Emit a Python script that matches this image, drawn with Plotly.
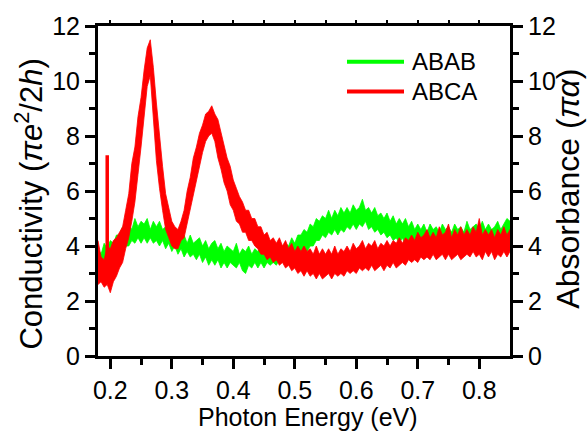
import plotly.graph_objects as go

# Photon energy grid (eV)
energy = [round(0.18 + 0.005 * i, 3) for i in range(135)]

# ABAB (green): upper / lower edges of the measured noise band
abab_upper = [
    3.9, 3.7, 4.1, 3.9, 4.2, 4.1, 4.4, 4.4, 4.7, 4.6, 4.8, 4.6, 5.0, 4.7, 4.9, 4.8, 5.0, 4.6, 4.9, 4.7,
    4.9, 4.6, 4.7, 4.5, 4.7, 4.3, 4.5, 4.2, 4.4, 4.1, 4.4, 4.1, 4.2, 4.3, 4.0, 4.2, 3.9, 4.1, 4.2, 3.9,
    4.1, 3.8, 4.0, 3.9, 3.8, 4.1, 3.7, 3.9, 3.8, 4.0, 3.7, 3.9, 3.8, 4.0, 3.7, 3.9, 3.8, 4.0, 3.9, 4.1,
    3.9, 4.1, 4.0, 4.3, 4.1, 4.4, 4.4, 4.6, 4.5, 4.8, 4.7, 5.0, 4.9, 5.1, 5.0, 5.3, 5.0, 5.3, 5.1, 5.4,
    5.2, 5.4, 5.2, 5.5, 5.3, 5.4, 5.7, 5.3, 5.4, 5.2, 5.4, 5.1, 5.2, 5.0, 5.2, 4.9, 5.1, 4.8, 5.0, 4.8,
    5.0, 4.7, 4.9, 4.6, 4.8, 4.6, 4.8, 4.5, 4.8, 4.6, 4.7, 4.5, 4.8, 4.6, 4.7, 4.5, 4.8, 4.6, 4.7, 4.5,
    4.9, 4.6, 4.7, 4.8, 4.6, 4.9, 4.6, 4.8, 4.6, 4.7, 4.9, 4.6, 4.8, 5.0, 4.9,
]
abab_lower = [
    3.3, 3.4, 3.2, 3.5, 3.4, 3.6, 3.6, 3.8, 3.8, 4.0, 4.0, 4.2, 4.1, 4.3, 4.1, 4.3, 4.1, 4.3, 4.1, 4.2,
    4.0, 4.2, 3.9, 4.1, 3.8, 4.0, 3.7, 3.9, 3.6, 3.8, 3.6, 3.7, 3.5, 3.7, 3.4, 3.6, 3.3, 3.5, 3.3, 3.5,
    3.2, 3.4, 3.2, 3.4, 3.3, 3.2, 3.4, 3.1, 3.0, 3.3, 3.2, 3.4, 3.2, 3.4, 3.2, 3.4, 3.3, 3.4, 3.3, 3.5,
    3.4, 3.5, 3.4, 3.6, 3.5, 3.7, 3.7, 3.9, 3.8, 4.0, 4.0, 4.2, 4.2, 4.4, 4.3, 4.5, 4.4, 4.6, 4.4, 4.6,
    4.5, 4.7, 4.6, 4.8, 4.6, 4.8, 4.7, 4.9, 4.6, 4.7, 4.5, 4.6, 4.4, 4.5, 4.3, 4.4, 4.2, 4.3, 4.1, 4.3,
    4.0, 4.2, 4.0, 4.2, 4.0, 4.1, 3.9, 4.1, 4.0, 4.2, 4.0, 4.1, 4.0, 4.2, 4.0, 4.2, 4.1, 4.2, 4.0, 4.2,
    4.1, 4.3, 4.1, 4.2, 4.1, 4.3, 4.1, 4.3, 4.2, 4.3, 4.2, 4.3, 4.2, 4.4, 4.3,
]

# ABCA (red): upper / lower edges of the measured noise band
abca_upper = [
    4.2, 3.6, 3.5, 4.0, 3.9, 4.2, 4.3, 4.5, 4.7, 5.3, 5.9, 7.0, 7.6, 8.7, 9.4, 10.4, 11.2, 11.5, 10.5, 9.2,
    7.9, 6.9, 5.9, 5.4, 4.9, 4.7, 4.6, 4.9, 5.3, 6.0, 6.5, 7.2, 7.6, 8.1, 8.4, 8.8, 8.9, 9.1, 8.8, 8.6,
    8.1, 7.7, 7.2, 6.9, 6.4, 6.1, 5.8, 5.6, 5.3, 5.3, 5.0, 5.0, 4.7, 4.7, 4.4, 4.5, 4.2, 4.3, 4.1, 4.3,
    4.0, 4.2, 3.9, 4.1, 3.8, 4.0, 3.8, 4.0, 3.8, 3.9, 3.7, 4.0, 3.7, 3.9, 3.7, 3.9, 3.7, 4.0, 3.7, 3.9,
    3.8, 4.0, 3.8, 4.1, 3.9, 4.0, 4.2, 3.9, 4.1, 4.0, 4.2, 3.9, 4.1, 4.0, 4.2, 4.0, 4.2, 4.1, 4.3, 4.1,
    4.3, 4.2, 4.4, 4.2, 4.5, 4.3, 4.4, 4.6, 4.3, 4.5, 4.3, 4.7, 4.4, 4.5, 4.8, 4.3, 4.6, 4.4, 4.7, 4.4,
    4.6, 4.4, 4.7, 4.5, 5.0, 4.4, 4.6, 4.4, 4.6, 4.3, 4.6, 4.4, 4.7, 4.4, 4.6,
]
abca_lower = [
    2.6, 2.7, 2.5, 2.6, 2.3, 2.7, 2.9, 3.2, 3.4, 3.9, 4.3, 4.9, 5.6, 6.6, 7.6, 8.6, 9.8, 10.2, 8.6, 7.1,
    6.1, 5.3, 4.6, 4.3, 4.0, 3.9, 3.9, 4.2, 4.3, 4.8, 5.3, 5.8, 6.4, 6.9, 7.4, 7.8, 8.0, 8.1, 7.8, 7.2,
    6.8, 6.3, 6.0, 5.5, 5.3, 4.9, 4.8, 4.5, 4.5, 4.2, 4.2, 4.0, 3.9, 3.7, 3.7, 3.5, 3.6, 3.4, 3.5, 3.3,
    3.4, 3.2, 3.3, 3.1, 3.2, 3.0, 3.1, 2.9, 3.1, 2.9, 3.0, 2.8, 3.0, 2.8, 2.9, 3.0, 2.8, 3.0, 2.9, 3.0,
    2.9, 3.1, 3.0, 3.1, 3.0, 3.2, 3.1, 3.2, 3.1, 3.3, 3.1, 3.2, 3.3, 3.1, 3.3, 3.2, 3.4, 3.2, 3.3, 3.4,
    3.3, 3.5, 3.4, 3.5, 3.4, 3.6, 3.5, 3.6, 3.5, 3.7, 3.5, 3.6, 3.7, 3.5, 3.7, 3.5, 3.6, 3.7, 3.5, 3.6,
    3.7, 3.6, 3.8, 3.6, 3.7, 3.5, 3.8, 3.6, 3.8, 3.5, 3.7, 3.6, 3.8, 3.6, 3.8,
]

# Narrow glitch in the ABCA trace
abca_glitch_energy = 0.195
abca_glitch_range = [3.0, 7.3]

series = [
    ("ABAB", abab_upper, abab_lower, "#00ff00"),
    ("ABCA", abca_upper, abca_lower, "#ff0000"),
]

x_ticks = [0.2, 0.3, 0.4, 0.5, 0.6, 0.7, 0.8]
x_minor = [0.25, 0.35, 0.45, 0.55, 0.65, 0.75]
y_ticks = [0, 2, 4, 6, 8, 10, 12]
y_minor = [1, 3, 5, 7, 9, 11]

FONT = "Arial"

fig = go.Figure()

for name, upper, lower, color in series:
    fig.add_trace(go.Scatter(
        x=energy + energy[::-1],
        y=upper + lower[::-1],
        mode="lines",
        fill="toself",
        fillcolor=color,
        line=dict(color=color, width=0.8),
        name=name,
        showlegend=False,
        hoverinfo="skip",
    ))

fig.add_trace(go.Scatter(
    x=[abca_glitch_energy, abca_glitch_energy],
    y=abca_glitch_range,
    mode="lines",
    line=dict(color="#ff0000", width=3.5),
    showlegend=False,
    hoverinfo="skip",
))

# invisible trace so the top tick axis is drawn
fig.add_trace(go.Scatter(x=[0.5], y=[0], xaxis="x2", yaxis="y", mode="markers",
                         marker=dict(opacity=0), showlegend=False, hoverinfo="skip"))
# invisible trace for the right-hand axis
fig.add_trace(go.Scatter(x=[0.5], y=[0], xaxis="x", yaxis="y2", mode="markers",
                         marker=dict(opacity=0), showlegend=False, hoverinfo="skip"))

axis_common = dict(
    showline=True, linecolor="black", linewidth=3,
    ticks="outside", tickcolor="black", tickwidth=2.5, ticklen=10,
    showgrid=False, zeroline=False,
    tickfont=dict(family=FONT, size=25, color="black"),
)

fig.update_layout(
    width=588, height=432,
    margin=dict(l=98, r=78, t=24, b=76),
    paper_bgcolor="white", plot_bgcolor="white",
    showlegend=False,
    font=dict(family=FONT),
    xaxis=dict(
        range=[0.18, 0.85], tickvals=x_ticks, ticktext=[f"{v:.1f}" for v in x_ticks],
        minor=dict(tickvals=x_minor, ticklen=6, tickwidth=2.5, tickcolor="black", ticks="outside"),
        **axis_common,
    ),
    xaxis2=dict(
        range=[0.18, 0.85], overlaying="x", side="top", anchor="y",
        showline=True, linecolor="black", linewidth=3,
        ticks="outside", tickcolor="black", tickwidth=2, ticklen=3,
        tickvals=x_ticks + x_minor,
        showticklabels=False, showgrid=False, zeroline=False,
    ),
    yaxis=dict(
        range=[0, 12], tickvals=y_ticks,
        minor=dict(tickvals=y_minor, ticklen=6, tickwidth=2.5, tickcolor="black", ticks="outside"),
        **axis_common,
    ),
    yaxis2=dict(
        range=[0, 12], tickvals=y_ticks, overlaying="y", side="right", anchor="x",
        minor=dict(tickvals=y_minor, ticklen=6, tickwidth=2.5, tickcolor="black", ticks="outside"),
        **axis_common,
    ),
)

# Axis titles
fig.add_annotation(
    text="Photon Energy (eV)", xref="paper", yref="paper",
    x=0.51, y=-0.184, xanchor="center", yanchor="middle", showarrow=False,
    font=dict(family=FONT, size=25, color="black"),
)
fig.add_annotation(
    text="Conductivity (<i>πe</i><sup>2</sup>/2<i>h</i>)", xref="paper", yref="paper",
    x=-0.1675, y=0.462, xanchor="center", yanchor="middle", textangle=-90, showarrow=False,
    font=dict(family=FONT, size=31, color="black"),
)
fig.add_annotation(
    text="Absorbance (<i>πα</i>)", xref="paper", yref="paper",
    x=1.14, y=0.506, xanchor="center", yanchor="middle", textangle=-90, showarrow=False,
    font=dict(family=FONT, size=32, color="black"),
)

# Legend
for k, (name, _, _, color) in enumerate(series):
    ly = 1 - (36 + 30 * k) / 332
    fig.add_shape(type="line", xref="paper", yref="paper",
                  x0=(347 - 98) / 412, x1=(404 - 98) / 412, y0=ly, y1=ly,
                  line=dict(color=color, width=4))
    fig.add_annotation(text=name, xref="paper", yref="paper",
                       x=(410 - 98) / 412, y=ly, xanchor="left", yanchor="middle",
                       showarrow=False, font=dict(family=FONT, size=24, color="black"))

fig.write_html("out.html")
